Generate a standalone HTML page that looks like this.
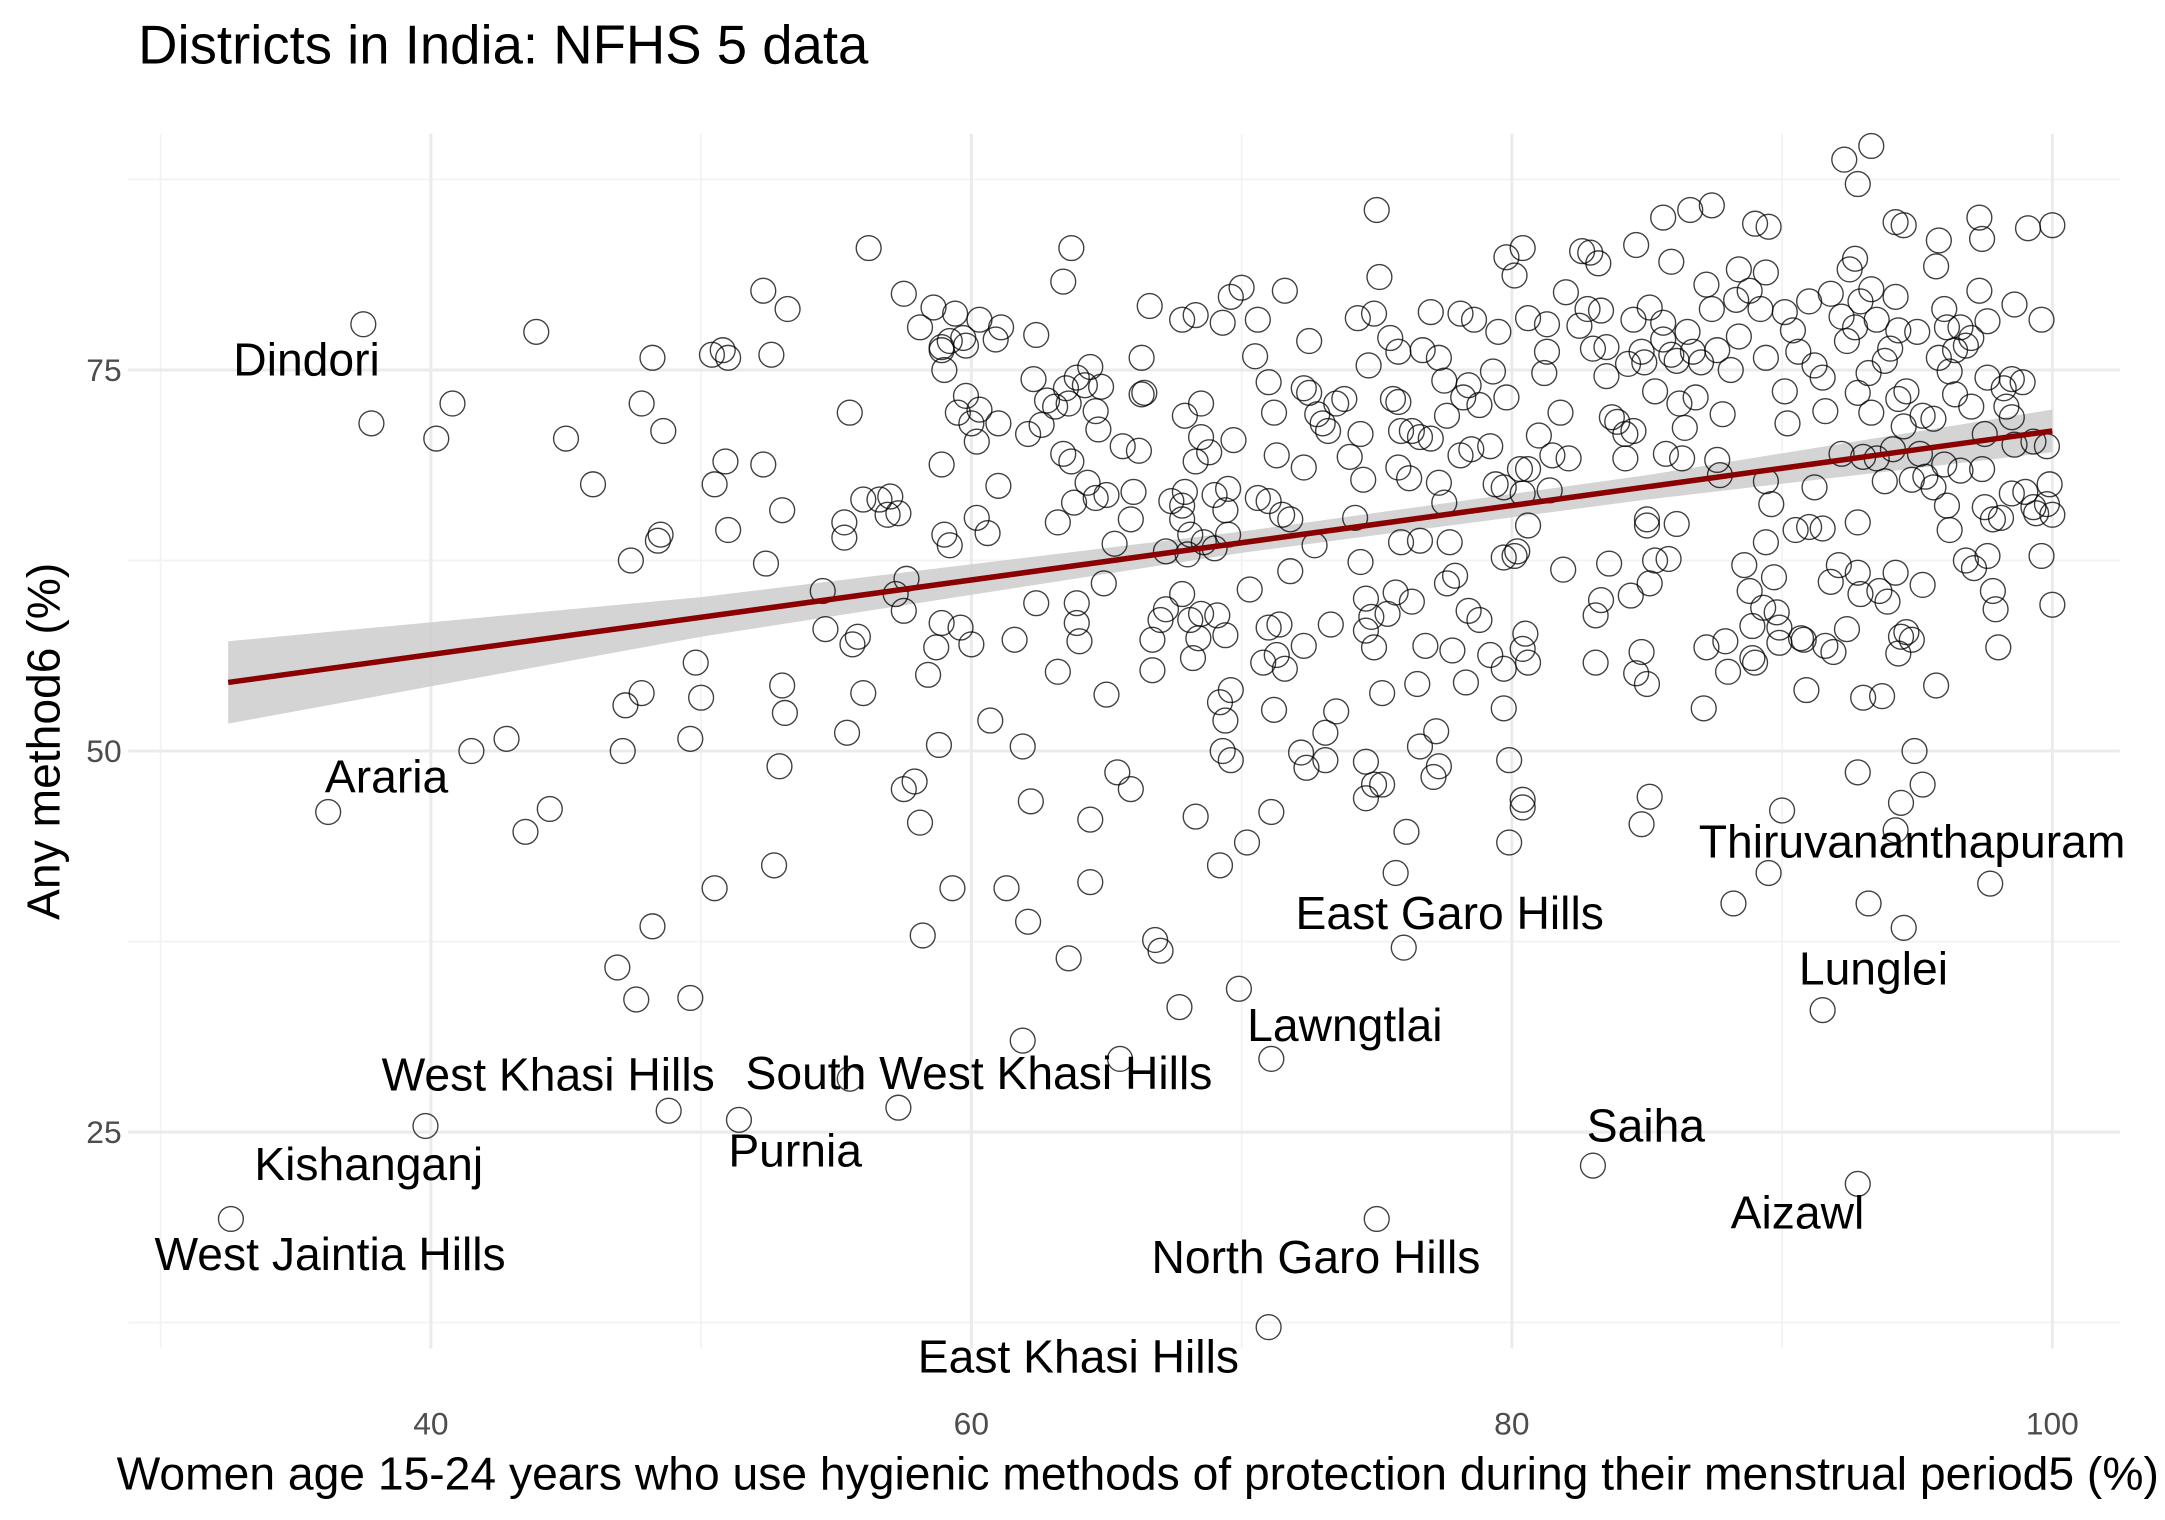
<!DOCTYPE html>
<html><head><meta charset="utf-8"><style>
html,body{margin:0;padding:0;background:#fff;}
svg{display:block;font-family:"Liberation Sans",Arial,sans-serif;}
</style></head><body>
<svg id="chart" width="2165" height="1520" viewBox="0 0 1568 1101" xmlns="http://www.w3.org/2000/svg">
<rect width="1568" height="1101" fill="#fff"/>
<text x="100" y="46" font-size="39.5" fill="#000">Districts in India: NFHS 5 data</text>
<g id="grid"></g>
<g id="band"></g>
<g id="points"></g>
<g id="fit"></g>
<g id="labels"></g>
<g id="ticks"></g>
<text x="824" y="1079" font-size="33.5" text-anchor="middle" fill="#000">Women age 15-24 years who use hygienic methods of protection during their menstrual period5 (%)</text>
<text transform="translate(43,537) rotate(-90)" font-size="33.5" text-anchor="middle" fill="#000">Any method6 (%)</text>
</svg>
<script>
const xTicks=[40,60,80,100];
const xMinor=[30,50,70,90];
const yTicks=[25,50,75];
const yMinor=[12.5,37.5,62.5,87.5];
const fitX=[32.5,100];
const fitY=[54.5,71.0];
const bandX=[32.5,50,70,85,100];
const bandLow=[51.8,57.5,63.0,66.5,69.6];
const bandHigh=[57.2,60.1,64.4,68.1,72.4];
const ptsX=[37.5,37.8,40.2,40.8,43.9,45.0,46.0,48.2,47.8,48.6,48.5,48.4,47.4,47.2,47.8,47.1,41.5,42.8,43.5,44.4,36.2,46.9,47.6,48.2,49.6,49.8,50.0,49.6,48.8,39.8,32.6,
50.4,50.8,51.0,50.5,50.9,51.0,50.5,52.3,52.6,53.2,52.3,53.0,52.4,53.0,53.1,52.9,52.7,54.6,54.5,55.5,55.3,55.3,55.8,55.6,56.0,55.4,56.0,56.6,56.9,57.3,57.0,56.2,57.2,57.6,57.5,57.3,55.5,51.4,57.5,57.9,58.1,58.2,58.4,58.7,58.8,57.5,58.1,58.6,58.9,59.0,59.4,58.9,59.2,59.7,59.8,59.5,59.8,60.0,60.2,59.0,59.2,58.9,59.6,60.0,59.3,58.9,60.6,60.2,60.3,
60.3,60.9,61.1,61.0,61.0,60.7,61.3,61.9,61.6,62.2,62.1,61.9,62.4,62.4,62.3,62.1,62.6,62.8,63.1,63.5,63.9,63.6,63.4,63.7,63.4,63.7,63.2,63.8,63.9,64.0,63.9,63.2,63.6,64.4,64.2,64.6,64.8,64.7,64.3,64.6,65.0,64.9,64.4,64.4,65.3,65.0,65.4,65.9,65.5,65.6,66.2,66.0,65.9,66.3,66.4,66.3,66.6,66.7,66.7,66.8,67.0,67.2,67.0,67.2,67.8,67.4,67.8,67.9,67.8,68.1,68.0,68.6,67.9,67.8,68.3,68.5,68.5,68.8,68.3,68.1,68.4,68.2,68.5,67.7,68.3,69.0,69.5,69.4,69.0,69.5,69.1,69.4,69.2,69.4,69.3,69.6,69.6,69.2,69.3,69.6,70.0,69.7,69.9,70.3,70.2,
70.5,71.0,70.6,71.6,71.2,71.3,70.6,71.0,71.5,71.8,71.4,71.0,71.3,70.8,71.6,71.2,71.1,71.8,72.5,72.3,72.5,72.8,73.0,73.2,73.5,73.8,72.3,72.7,72.3,72.2,72.4,73.1,73.1,73.5,73.3,74.0,74.5,74.4,74.2,74.4,74.6,74.6,74.8,74.9,74.6,74.6,74.9,75.2,75.2,74.3,74.7,74.9,75.1,75.0,75.5,75.8,75.6,75.8,75.9,76.3,75.8,76.2,75.9,75.7,76.3,75.4,75.7,76.1,76.7,77.0,77.3,77.5,77.6,77.0,76.6,77.3,77.5,76.6,77.7,76.8,76.5,77.2,77.3,77.1,76.6,77.9,77.6,77.8,78.3,78.1,78.6,78.8,78.4,78.2,78.5,78.1,78.8,78.4,79.5,79.8,79.3,79.8,79.2,79.4,79.7,79.7,79.2,79.7,79.7,79.9,79.9,
80.4,80.1,80.6,80.3,80.6,80.4,80.6,80.2,80.1,80.5,80.4,80.6,80.4,80.4,81.2,81.3,81.3,81.0,81.8,81.5,81.4,82.0,81.9,82.1,82.6,82.9,82.5,83.0,83.5,82.8,83.3,83.2,83.5,83.1,83.3,83.1,83.6,83.7,83.9,84.2,84.2,84.5,84.3,84.5,84.6,84.8,84.9,85.3,85.1,85.0,85.0,85.3,85.1,84.4,84.8,84.6,85.0,85.1,84.8,85.6,85.9,85.6,85.6,85.9,86.1,86.2,85.7,86.3,86.1,85.8,86.6,86.5,86.7,86.8,86.4,87.4,87.2,87.4,87.6,87.0,87.2,87.1,87.8,87.6,87.7,88.3,88.4,88.8,88.4,88.1,87.9,88.0,88.2,88.6,88.8,89.3,88.9,88.9,89.0,89.0,89.5,89.4,89.2,89.4,89.4,89.6,89.4,89.5,89.7,89.8,89.9,89.9,
90.1,90.4,90.6,90.1,90.2,90.5,90.0,90.7,91.0,91.2,91.5,91.6,91.2,91.0,90.8,91.5,90.9,91.8,92.2,92.4,92.2,92.1,91.8,91.9,92.4,91.6,92.5,92.7,92.9,92.7,92.8,93.2,93.0,92.8,92.8,92.9,93.0,92.8,92.3,92.8,93.3,93.3,93.5,93.8,93.3,93.5,93.8,93.2,93.6,93.9,93.7,94.2,94.5,94.2,94.3,94.0,94.6,94.3,94.5,94.1,94.8,94.2,94.4,94.6,94.3,94.8,94.4,94.2,94.5,94.9,95.2,95.0,95.2,95.6,95.1,95.3,95.6,95.2,95.7,95.7,95.8,96.0,96.1,96.4,95.8,96.2,96.4,96.0,96.1,96.2,96.6,96.6,96.8,97.0,96.8,97.1,97.4,97.3,97.3,97.0,97.6,97.6,97.5,97.4,97.5,97.8,97.6,97.8,97.9,97.7,98.0,98.2,98.3,98.5,98.6,98.5,98.1,98.5,98.6,98.9,99.1,99.3,99.0,99.3,99.4,99.6,99.6,99.8,99.8,100,99.9,100,100,
71.1,71.0,75.0,76.0,83.0,92.8,91.5];
const ptsY=[78,71.5,70.5,72.8,77.5,70.5,67.5,75.8,72.8,71,64.2,63.8,62.5,53,53.8,50,50,50.8,44.7,46.2,46,35.8,33.7,38.5,33.8,55.8,53.5,50.8,26.4,25.4,19.3,
76,76.3,75.8,67.5,69,64.5,41,80.2,76,79,68.8,65.8,62.3,54.3,52.5,49,42.5,58,60.5,72.2,65,64,57.5,57,53.8,51.2,66.5,66.5,65.5,65.6,66.7,83,60.3,61.3,59.2,26.6,28.5,25.8,47.5,48,45.3,37.9,55,56.8,50.4,80,77.8,79.1,76.3,75,78.7,76.5,76.9,77.1,76.6,72.2,73.3,71.5,70.3,64.2,63.5,58.4,58.1,57,41,68.8,64.3,65.3,72.4,
78.3,77,77.8,71.5,67.4,52,41,50.3,57.3,46.7,38.8,31,59.7,77.3,74.4,70.8,71.4,73,72.6,73.8,74.5,72.8,80.8,83,69.5,69,65,66.3,58.4,57.2,59.7,55.2,36.4,75.2,74,72.3,73.9,71.1,67.6,66.6,66.8,61,45.5,41.4,63.6,53.7,48.6,47.5,29.8,70,69.7,67,65.2,75.8,73.5,73.4,79.2,57.3,55.3,37.6,36.9,59.3,58.6,63.1,60.3,66.4,66.1,67,65.2,64.2,62.9,63.7,72,78.3,78.6,72.8,70.6,69.6,69,58.6,57.4,56.1,59,33.2,45.7,66.8,67.2,65.8,63.3,64.2,58.9,57.6,53.2,52,50,49.4,54,42.5,78.1,79.8,80.4,70.4,34.4,60.6,44,
75.9,74.2,78.3,80.2,72.2,69.4,66.6,66.4,65.5,65.2,58.3,58.1,56.3,55.8,55.4,52.7,46,61.8,76.9,73.8,73.5,72.1,71.5,71,72.8,73.1,68.6,63.5,56.9,49.9,48.9,49.4,51.2,52.6,58.3,69.3,67.8,70.8,65.3,62.4,60,57.9,58.8,56.8,49.3,46.9,47.8,47.8,53.8,78.4,75.3,78.7,81.1,85.5,77.1,76.2,73.1,72.9,71,71,68.6,67.9,63.7,60.4,59.8,59,42,44.7,76.3,78.8,75.8,74.3,72,70.5,70.6,67.6,66.3,63.8,63.7,56.9,54.4,51.3,49,48.3,50.3,61.5,61,56.6,54.5,78.7,78.3,72.7,74,73.2,69.8,69.4,58.6,59.2,77.5,82.4,74.9,73.2,70,67.5,67.3,62.7,56.3,55.4,52.8,49.4,44,
83,81.2,78.4,68.5,68.5,66.9,64.8,63.1,62.8,57.7,56.7,55.8,46.8,46.3,74.8,76.2,78,70.7,72.2,69.4,67.1,80.1,61.9,69.2,82.8,82.7,77.9,76.4,74.6,79,78.9,82,76.5,58.9,59.9,55.8,62.3,71.9,71.6,70.8,69.2,71,75.4,78.3,83.2,76.2,75.5,73.6,79.1,65.2,64.8,62.5,61,60.2,56.5,55.1,54.4,47,45.2,85,82.1,78.1,77,76,75.6,72.8,69.5,69.2,64.9,62.6,85.5,77.5,76.2,73.2,71.2,85.8,80.6,79,76.3,75.5,56.8,52.8,72.1,69.1,68.1,79.6,81.6,80.2,77.2,75,57.2,55.2,40,62.2,60.5,59.4,58.2,56.1,55.8,84.6,84.4,81.4,79,75.8,67.7,66.2,63.7,42,61.4,59.1,58.1,57.1,
78.8,77.6,76.2,73.6,71.5,64.5,46.1,57.4,79.5,75.3,74.5,72.3,67.3,64.7,57.3,64.6,54,80,78.5,76.9,69.5,62.2,61.1,56.5,58,56.9,81.6,82.3,79.5,77.8,73.5,74.8,69.3,65,61.7,60.3,53.5,48.6,88.8,87.2,89.7,80.3,78.3,75.6,72.2,69.2,67.7,40,60.5,59.8,53.6,84.7,84.5,79.8,77.6,76.4,73.6,73.1,71.3,69.8,67.8,61.7,57.5,57.8,56.4,57.3,46.6,44.8,38.4,50,47.8,77.5,72,71.8,69.5,68,67.3,60.9,54.3,81.8,83.5,79,77.8,76.3,75.8,74.9,73.4,68.8,66.1,64.5,68.4,77.8,76.6,72.6,62.5,62,83.6,85,80.2,77.1,78.2,74.5,70.8,68.5,66,65.2,62.8,60.5,59.3,41.3,56.8,73.8,72.6,71.9,70.1,66.9,65.3,74.4,79.3,74.2,84.3,70.3,67,66,65.6,62.8,78.3,70,66.2,84.5,67.5,65.5,59.6,
29.8,12.2,19.3,37.1,22.8,21.6,33];
const labelNames=["Dindori","Araria","West Khasi Hills","Kishanganj","West Jaintia Hills","Purnia","South West Khasi Hills","East Khasi Hills","North Garo Hills","Lawngtlai","East Garo Hills","Saiha","Aizawl","Lunglei","Thiruvananthapuram"];
const labelX=[35.40,38.36,44.34,37.70,36.27,53.48,60.28,63.96,72.75,73.82,77.70,84.96,90.57,93.38,94.81];
const labelY=[74.64,47.28,27.72,21.84,15.96,22.75,27.81,9.24,15.76,30.98,38.32,24.37,18.66,34.69,43.02];

const NS="http://www.w3.org/2000/svg";
const X=v=>312+(v-40)*19.575;
const Y=v=>268-(v-75)*11.04;
function mk(tag,parent,attrs){const e=document.createElementNS(NS,tag);for(const k in attrs)e.setAttribute(k,attrs[k]);document.getElementById(parent).appendChild(e);return e;}
const L=X(28.8),R=X(102.5),T=Y(90.5),B=Y(10.8);
yMinor.forEach(v=>{const e=mk('line','grid',{x1:L,x2:R,y1:Y(v),y2:Y(v),stroke:'#f2f2f2','stroke-width':1.2});

});
xMinor.forEach(v=>{const e=mk('line','grid',{x1:X(v),x2:X(v),y1:T,y2:B,stroke:'#f2f2f2','stroke-width':1.2});

});
yTicks.forEach(v=>{const e=mk('line','grid',{x1:L,x2:R,y1:Y(v),y2:Y(v),stroke:'#ebebeb','stroke-width':2.2});


const t=mk('text','ticks',{x:88,y:Y(v)+8,'font-size':23,'text-anchor':'end',fill:'#4d4d4d'});t.textContent=v;

});
xTicks.forEach(v=>{const e=mk('line','grid',{x1:X(v),x2:X(v),y1:T,y2:B,stroke:'#ebebeb','stroke-width':2.2});


const t=mk('text','ticks',{x:X(v),y:1039,'font-size':23,'text-anchor':'middle',fill:'#4d4d4d'});t.textContent=v;

});
let d='';bandX.forEach((v,i)=>{d+=(i?'L':'M')+X(v)+','+Y(bandHigh[i]);});
for(let i=bandX.length-1;i>=0;i--)d+='L'+X(bandX[i])+','+Y(bandLow[i]);
const band=mk('path','band',{d:d+'Z',fill:'#cccccc','fill-opacity':0.85});


ptsX.forEach((v,i)=>{const c=mk('circle','points',{cx:X(v),cy:Y(ptsY[i]),r:9,fill:'none',stroke:'#000','stroke-opacity':0.75,'stroke-width':1});

});
const fl=mk('line','fit',{x1:X(fitX[0]),y1:Y(fitY[0]),x2:X(fitX[1]),y2:Y(fitY[1]),stroke:'#8b0000','stroke-width':4});


labelNames.forEach((n,i)=>{const t=mk('text','labels',{x:X(labelX[i]),y:Y(labelY[i]),'font-size':33.5,'text-anchor':'middle',fill:'#000'});t.textContent=n;

});
</script>
</body></html>
